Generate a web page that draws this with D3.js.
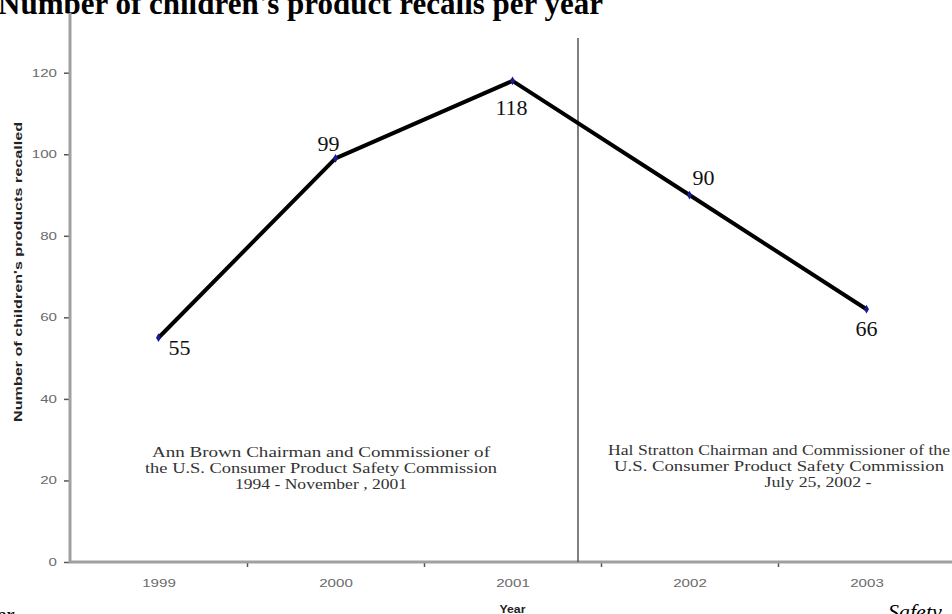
<!DOCTYPE html>
<html>
<head>
<meta charset="utf-8">
<script src="https://cdn.jsdelivr.net/npm/d3@7"></script>
<style>
  html, body { margin: 0; padding: 0; background: #fff; overflow: hidden; }
  svg { display: block; }
</style>
</head>
<body>
<svg id="chart"></svg>
<script>
// data
const years = [1999, 2000, 2001, 2002, 2003];
const recalls = [55, 99, 118, 90, 62];          // where the markers sit
const recallLabels = ['55', '99', '118', '90', '66']; // numbers printed next to them
const yTicks = [0, 20, 40, 60, 80, 100, 120];
const changeover = 2001.37;  // chairman change, between 2001 and 2002

const leftNote = ['Ann Brown  Chairman and Commissioner of', 'the U.S. Consumer Product Safety Commission', '1994 - November , 2001'];
const rightNote = ['Hal Stratton Chairman and Commissioner of the', 'U.S. Consumer  Product Safety Commission', 'July 25, 2002 -'];

// label placement relative to each marker (dx, dy to label centre)
const labelOffsets = [[21, 9], [-7, -15], [-1, 26], [14, -18], [0, 19]];

const width = 952, height = 614;
const svg = d3.select('#chart').attr('width', width).attr('height', height);

const x = d3.scaleLinear().domain([1998.5, 2003.5]).range([70, 955]);
const y = d3.scaleLinear().domain([0, 120]).range([562, 72.7]);

// the scanned chart is stretched sideways, so small text gets a wider textLength
const stretch = 8.4; // px per character for the small axis text

// title, clipped at the top like the scan
svg.append('text')
  .attr('x', -2).attr('y', 14)
  .style('font-family', '"Liberation Serif", "Times New Roman", serif')
  .style('font-weight', 'bold')
  .style('font-size', '31px')
  .text("Number of children's product recalls per year");

// stray words from the page around the chart
svg.append('text')
  .attr('x', -4).attr('y', 622)
  .style('font-family', '"Liberation Serif", serif')
  .style('font-style', 'italic')
  .style('font-size', '22px')
  .text('er');
svg.append('text')
  .attr('x', 888).attr('y', 619)
  .style('font-family', '"Liberation Serif", serif')
  .style('font-style', 'italic')
  .style('font-size', '22px')
  .text('Safety');

// y axis
const yAxis = d3.axisLeft(y).tickValues(yTicks).tickSize(6).tickPadding(7).tickSizeOuter(0);
const gy = svg.append('g').attr('transform', 'translate(70,0)').call(yAxis);
gy.select('.domain').remove();
gy.selectAll('.tick line').attr('stroke', '#555').attr('stroke-width', 1.5);
gy.selectAll('.tick text')
  .attr('fill', '#6a6a6a')
  .attr('textLength', d => String(d).length * stretch)
  .attr('lengthAdjust', 'spacingAndGlyphs')
  .style('font-family', '"Liberation Sans", Arial, sans-serif')
  .style('font-size', '11px');
svg.append('line')
  .attr('x1', 70).attr('x2', 70).attr('y1', 13).attr('y2', 563)
  .attr('stroke', '#a0a0a0').attr('stroke-width', 3);

// x axis: ticks on category boundaries, labels at the centres
const bounds = years.slice(1).map(d => d - 0.5);
const xAxis = d3.axisBottom(x).tickValues(bounds).tickSize(5).tickFormat('');
const gx = svg.append('g').attr('transform', 'translate(0,562)').call(xAxis);
gx.select('.domain').remove();
gx.selectAll('.tick line').attr('stroke', '#555').attr('stroke-width', 1.5);
svg.append('line')
  .attr('x1', 69).attr('x2', 955).attr('y1', 562).attr('y2', 562)
  .attr('stroke', '#a0a0a0').attr('stroke-width', 3);

const xLabels = d3.axisBottom(x).tickValues(years).tickSize(0).tickPadding(17).tickFormat(d3.format('d'));
const gxl = svg.append('g').attr('transform', 'translate(0,562)').call(xLabels);
gxl.select('.domain').remove();
gxl.selectAll('.tick text')
  .attr('fill', '#6a6a6a')
  .attr('textLength', 4 * stretch)
  .attr('lengthAdjust', 'spacingAndGlyphs')
  .style('font-family', '"Liberation Sans", Arial, sans-serif')
  .style('font-size', '11px');

// axis titles
svg.append('text')
  .attr('transform', 'translate(22,272) rotate(-90)')
  .attr('text-anchor', 'middle')
  .attr('textLength', 300)
  .attr('lengthAdjust', 'spacingAndGlyphs')
  .style('font-family', '"Liberation Sans", Arial, sans-serif')
  .style('font-weight', 'bold')
  .style('font-size', '11px')
  .attr('fill', '#222')
  .text("Number of children's products recalled");

svg.append('text')
  .attr('x', x(2001)).attr('y', 613)
  .attr('text-anchor', 'middle')
  .attr('textLength', 26)
  .attr('lengthAdjust', 'spacingAndGlyphs')
  .style('font-family', '"Liberation Sans", Arial, sans-serif')
  .style('font-weight', 'bold')
  .style('font-size', '11px')
  .attr('fill', '#222')
  .text('Year');

// changeover line
svg.append('line')
  .attr('x1', x(changeover)).attr('x2', x(changeover))
  .attr('y1', 38).attr('y2', 562)
  .attr('stroke', '#555').attr('stroke-width', 1.5);

// notes, widths
const noteStyle = sel => sel
  .attr('text-anchor', 'middle')
  .attr('fill', '#333')
  .attr('lengthAdjust', 'spacingAndGlyphs')
  .style('font-family', '"Liberation Serif", "Times New Roman", serif')
  .style('font-size', '15px');

const leftWidths = [338, 352, 172];
const rightWidths = [342, 330, 107];

leftNote.forEach((t, i) => {
  svg.append('text').call(noteStyle)
    .attr('x', 321).attr('y', 457 + i * 16)
    .attr('textLength', leftWidths[i])
    .text(t);
});
rightNote.forEach((t, i) => {
  svg.append('text').call(noteStyle)
    .attr('x', i === 2 ? 818 : 779).attr('y', 455 + i * 16)
    .attr('textLength', rightWidths[i])
    .text(t);
});

// the series
const pts = years.map((yr, i) => ({ year: yr, value: recalls[i], label: recallLabels[i], off: labelOffsets[i] }));

const line = d3.line().x(d => x(d.year)).y(d => y(d.value));
svg.append('path')
  .datum(pts)
  .attr('d', line)
  .attr('fill', 'none')
  .attr('stroke', '#000')
  .attr('stroke-width', 4)
  .attr('stroke-linejoin', 'round');

svg.selectAll('.marker')
  .data(pts)
  .enter()
  .append('path')
  .attr('class', 'marker')
  .attr('d', d3.symbol(d3.symbolDiamond, 22))
  .attr('transform', d => 'translate(' + x(d.year) + ',' + y(d.value) + ')')
  .attr('fill', '#1a1a8c');

svg.selectAll('.vlabel')
  .data(pts)
  .enter()
  .append('text')
  .attr('class', 'vlabel')
  .attr('x', d => x(d.year) + d.off[0])
  .attr('y', d => y(d.value) + d.off[1] + 8)
  .attr('text-anchor', 'middle')
  .style('font-family', '"Liberation Serif", "Times New Roman", serif')
  .style('font-size', '22px')
  .attr('fill', '#111')
  .text(d => d.label);
</script>
</body>
</html>
